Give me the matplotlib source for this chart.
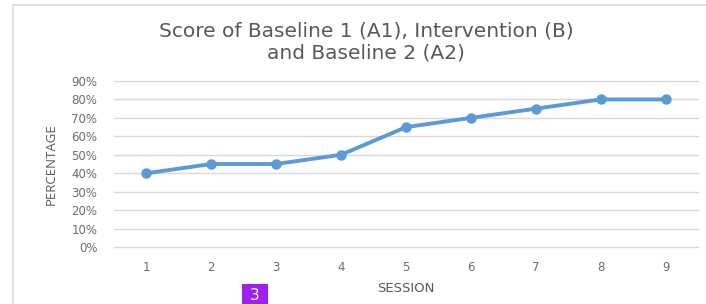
import matplotlib
matplotlib.use('Agg')
import matplotlib.pyplot as plt
from matplotlib.patches import Rectangle
from matplotlib.ticker import PercentFormatter

# データ
sessions = [1, 2, 3, 4, 5, 6, 7, 8, 9]
scores = [0.40, 0.45, 0.45, 0.50, 0.65, 0.70, 0.75, 0.80, 0.80]
y_ticks = [0.0, 0.1, 0.2, 0.3, 0.4, 0.5, 0.6, 0.7, 0.8, 0.9]

plt.rcParams['font.family'] = ['DejaVu Sans']
grey = '#595959'

fig = plt.figure(figsize=(7.06, 3.04), dpi=100)
ax = fig.add_axes([114 / 706, 57 / 304, 584 / 706, 166 / 304])

# チャートの枠線
fig.patches.append(Rectangle((13 / 706, -0.1), 1.0, 1.1 - 5 / 304,
                             transform=fig.transFigure, fill=False,
                             edgecolor='#d9d9d9', linewidth=1.2))

ax.plot(sessions, scores, color='#5b9bd5', linewidth=2.8,
        marker='o', markersize=6.5, zorder=3)

ax.set_xlim(0.5, 9.5)
ax.set_ylim(0, 0.9)
ax.set_yticks(y_ticks)
ax.yaxis.set_major_formatter(PercentFormatter(1.0, decimals=0))
ax.set_xticks(sessions)
ax.grid(axis='y', color='#d9d9d9', linewidth=1)
for gl in ax.get_ygridlines():
    gl.set_clip_on(False)
ax.set_axisbelow(True)
for s in ax.spines.values():
    s.set_visible(False)
ax.tick_params(length=0, labelsize=8.5, colors='#6e6e6e', pad=10)
ax.tick_params(axis='y', pad=12)

ax.set_xlabel('SESSION', fontsize=9.5, color=grey, labelpad=6)
ax.set_ylabel('PERCENTAGE', fontsize=9.5, color=grey, labelpad=10,
              family=['Open Sans', 'DejaVu Sans'])

fig.text(366 / 706, 1 - 42 / 304, 'Score of Baseline 1 (A1), Intervention (B)\nand Baseline 2 (A2)',
         ha='center', va='center', fontsize=14.5, color=grey, linespacing=1.2)

# ページ番号のバッジ
fig.patches.append(Rectangle((242 / 706, 0), 26 / 706, 20 / 304,
                             transform=fig.transFigure, facecolor='#a020f0',
                             edgecolor='none'))
fig.text(255 / 706, 9 / 304, '3', ha='center', va='center', fontsize=11, color='white')

fig.savefig('out.png', dpi=100)
